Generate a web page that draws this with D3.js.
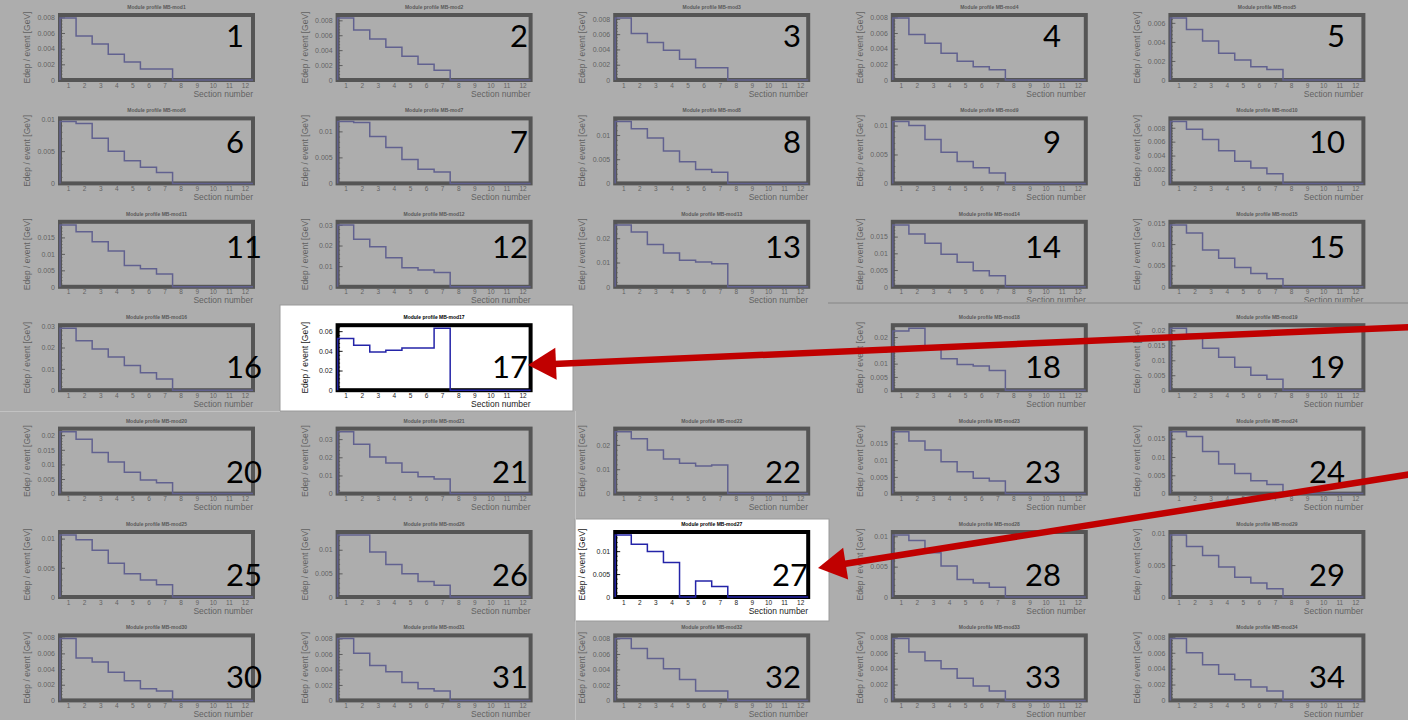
<!DOCTYPE html>
<html>
<head>
<meta charset="utf-8">
<script src="https://cdn.jsdelivr.net/npm/d3@7"></script>
<style>
  html, body { margin: 0; padding: 0; background: #ffffff; }
  svg { display: block; }
</style>
</head>
<body>
<svg id="chart" width="1408" height="720"></svg>
<script>
// Section numbers along the x axis of every module profile
const sections = [1, 2, 3, 4, 5, 6, 7, 8, 9, 10, 11, 12];

// Energy deposit per event [GeV] in sections 1..12, one array per module
const m01 = [0.0079, 0.0056, 0.0046, 0.0033, 0.0023, 0.0014, 0.0014, 0, 0, 0, 0, 0];
const m02 = [0.0083, 0.0067, 0.0055, 0.0044, 0.0032, 0.0021, 0.0013, 0, 0, 0, 0, 0];
const m03 = [0.0081, 0.0061, 0.0049, 0.0039, 0.0027, 0.0016, 0.0016, 0, 0, 0, 0, 0];
const m04 = [0.0079, 0.0058, 0.0047, 0.0034, 0.0024, 0.0017, 0.0013, 0, 0, 0, 0, 0];
const m05 = [0.0065, 0.0053, 0.0041, 0.0028, 0.0021, 0.0014, 0.0011, 0, 0, 0, 0, 0];
const m06 = [0.0096, 0.0093, 0.0070, 0.0050, 0.0035, 0.0025, 0.0017, 0, 0, 0, 0, 0];
const m07 = [0.0119, 0.0117, 0.0090, 0.0069, 0.0046, 0.0027, 0.0022, 0, 0, 0, 0, 0];
const m08 = [0.0128, 0.0113, 0.0094, 0.0067, 0.0045, 0.0029, 0.0023, 0, 0, 0, 0, 0];
const m09 = [0.0107, 0.0100, 0.0076, 0.0054, 0.0038, 0.0027, 0.0018, 0, 0, 0, 0, 0];
const m10 = [0.0089, 0.0078, 0.0063, 0.0047, 0.0032, 0.0022, 0.0014, 0, 0, 0, 0, 0];
const m11 = [0.0188, 0.0167, 0.0137, 0.0109, 0.0065, 0.0055, 0.0039, 0, 0, 0, 0, 0];
const m12 = [0.0300, 0.0230, 0.0194, 0.0141, 0.0092, 0.0082, 0.0069, 0, 0, 0, 0, 0];
const m13 = [0.0255, 0.0226, 0.0174, 0.0139, 0.0109, 0.0102, 0.0095, 0, 0, 0, 0, 0];
const m14 = [0.0185, 0.0158, 0.0130, 0.0097, 0.0073, 0.0048, 0.0033, 0, 0, 0, 0, 0];
const m15 = [0.0145, 0.0126, 0.0086, 0.0067, 0.0045, 0.0031, 0.0019, 0, 0, 0, 0, 0];
const m16 = [0.0290, 0.0232, 0.0193, 0.0155, 0.0116, 0.0082, 0.0053, 0, 0, 0, 0, 0];
const m17 = [0.0526, 0.0457, 0.0388, 0.0405, 0.0429, 0.0429, 0.0629, 0, 0, 0, 0, 0];
const m18 = [0.0223, 0.0233, 0.0155, 0.0118, 0.0097, 0.0091, 0.0074, 0, 0, 0, 0, 0];
const m19 = [0.0207, 0.0187, 0.0140, 0.0110, 0.0077, 0.0050, 0.0037, 0, 0, 0, 0, 0];
const m20 = [0.0212, 0.0186, 0.0141, 0.0108, 0.0073, 0.0047, 0.0037, 0, 0, 0, 0, 0];
const m21 = [0.0341, 0.0272, 0.0201, 0.0168, 0.0117, 0.0093, 0.0080, 0, 0, 0, 0, 0];
const m22 = [0.0254, 0.0225, 0.0179, 0.0142, 0.0125, 0.0113, 0.0117, 0, 0, 0, 0, 0];
const m23 = [0.0185, 0.0157, 0.0130, 0.0095, 0.0065, 0.0046, 0.0038, 0, 0, 0, 0, 0];
const m24 = [0.0169, 0.0156, 0.0115, 0.0081, 0.0055, 0.0035, 0.0025, 0, 0, 0, 0, 0];
const m25 = [0.0106, 0.0098, 0.0080, 0.0058, 0.0040, 0.0029, 0.0021, 0, 0, 0, 0, 0];
const m26 = [0.0131, 0.0131, 0.0095, 0.0069, 0.0049, 0.0033, 0.0025, 0, 0, 0, 0, 0];
const m27 = [0.0135, 0.0115, 0.0099, 0.0075, 0, 0.0035, 0.0023, 0, 0, 0, 0, 0];
const m28 = [0.0102, 0.0093, 0.0073, 0.0051, 0.0029, 0.0023, 0.0016, 0, 0, 0, 0, 0];
const m29 = [0.0097, 0.0079, 0.0065, 0.0047, 0.0031, 0.0022, 0.0013, 0, 0, 0, 0, 0];
const m30 = [0.0079, 0.0054, 0.0049, 0.0036, 0.0025, 0.0015, 0.0012, 0, 0, 0, 0, 0];
const m31 = [0.0080, 0.0061, 0.0045, 0.0037, 0.0023, 0.0015, 0.0012, 0, 0, 0, 0, 0];
const m32 = [0.0080, 0.0067, 0.0054, 0.0041, 0.0027, 0.0012, 0.0012, 0, 0, 0, 0, 0];
const m33 = [0.0078, 0.0061, 0.0050, 0.0040, 0.0028, 0.0018, 0.0012, 0, 0, 0, 0, 0];
const m34 = [0.0078, 0.0060, 0.0045, 0.0033, 0.0026, 0.0017, 0.0012, 0, 0, 0, 0, 0];

const profiles = [m01, m02, m03, m04, m05, m06, m07, m08, m09, m10,
                  m11, m12, m13, m14, m15, m16, m17, m18, m19, m20,
                  m21, m22, m23, m24, m25, m26, m27, m28, m29, m30,
                  m31, m32, m33, m34];

// Labelled y-tick spacing of each module's profile
const yTickStep = [0.002, 0.002, 0.002, 0.002, 0.002, 0.005, 0.005, 0.005, 0.005, 0.002,
                   0.005, 0.01, 0.01, 0.005, 0.005, 0.01, 0.02, 0.005, 0.005, 0.005,
                   0.01, 0.01, 0.005, 0.005, 0.005, 0.005, 0.005, 0.005, 0.005, 0.002,
                   0.002, 0.002, 0.002, 0.002];

// Modules singled out
const highlighted = [17, 27];

// ---- layout -------------------------------------------------------------
const W = 1408, H = 720;
const colX0 = 60, colStep = 277.6;
const rowY0 = 15, rowStep = 103.4;
const frameW = 193, frameH = 65;
const numRight = [null, 528, 801, 1061, 1345];
const numBaseline = [32, 35, 36, 53, 54.5, 54, 53];

const svg = d3.select("#chart");
svg.append("rect").attr("width", W).attr("height", H).attr("fill", "#ffffff");

const fmt = d3.format(".3~g");
const AXIS_FONT = "'Liberation Sans', Arial, sans-serif";

function slotOf(m) { return m <= 17 ? m - 1 : m; }   // one grid slot left empty after module 17

const panels = profiles.map((vals, i) => {
  const m = i + 1;
  const slot = slotOf(m);
  const row = Math.floor(slot / 5), col = slot % 5;
  return { m, vals, row, col,
           left: colX0 + col * colStep,
           top: rowY0 + row * rowStep,
           step: yTickStep[i] };
});

const panelLayer = svg.append("g");

panels.forEach(p => {
  const g = panelLayer.append("g");
  const x = d3.scaleLinear().domain([0.5, 12.5]).range([p.left, p.left + frameW]);
  const ymax = d3.max(p.vals) * 1.05;
  const y = d3.scaleLinear().domain([0, ymax]).range([p.top + frameH, p.top]);

  // title
  g.append("text")
    .attr("x", p.left + frameW / 2).attr("y", p.top - 6)
    .attr("text-anchor", "middle")
    .attr("font-family", AXIS_FONT).attr("font-size", 5).attr("font-weight", "bold")
    .attr("fill", "#000")
    .text("Module profile MB-mod" + p.m);

  // y axis ticks (major labelled + minor) drawn inside the frame
  const nMajor = Math.floor(ymax / p.step + 1e-9);
  const major = d3.range(0, nMajor + 1).map(k => +(k * p.step).toFixed(5));
  const minorStep = p.step / 5;
  const minor = d3.range(0, Math.floor(ymax / minorStep + 1e-9) + 1).map(k => k * minorStep);

  const yAxisMinor = d3.axisRight(y).tickValues(minor).tickSize(2.5).tickFormat("");
  g.append("g").attr("transform", `translate(${p.left},0)`).call(yAxisMinor)
    .call(a => a.select(".domain").remove())
    .call(a => a.selectAll("line").attr("stroke", "#000").attr("stroke-width", 0.8));

  const yAxisMajor = d3.axisRight(y).tickValues(major).tickSize(5).tickFormat("");
  g.append("g").attr("transform", `translate(${p.left},0)`).call(yAxisMajor)
    .call(a => a.select(".domain").remove())
    .call(a => a.selectAll("line").attr("stroke", "#000").attr("stroke-width", 0.9));

  const yAxisLabels = d3.axisLeft(y).tickValues(major).tickSize(0).tickPadding(5).tickFormat(fmt);
  g.append("g").attr("transform", `translate(${p.left},0)`).call(yAxisLabels)
    .call(a => a.select(".domain").remove())
    .call(a => a.selectAll("text")
      .attr("font-family", AXIS_FONT).attr("font-size", 7).attr("fill", "#222"));

  // x axis labels at section centres
  const xAxis = d3.axisBottom(x).tickValues(sections).tickSize(0).tickPadding(3).tickFormat(d3.format("d"));
  g.append("g").attr("transform", `translate(0,${p.top + frameH})`).call(xAxis)
    .call(a => a.select(".domain").remove())
    .call(a => a.selectAll("text")
      .attr("font-family", AXIS_FONT).attr("font-size", 6.5).attr("fill", "#222"));

  // axis titles
  g.append("text")
    .attr("x", p.left + frameW).attr("y", p.top + frameH + 16.5)
    .attr("text-anchor", "end")
    .attr("font-family", AXIS_FONT).attr("font-size", 8.5).attr("fill", "#222")
    .text("Section number");
  g.append("text")
    .attr("transform", `translate(${p.left - 30},${p.top + frameH / 2}) rotate(-90)`)
    .attr("text-anchor", "middle")
    .attr("font-family", AXIS_FONT).attr("font-size", 8.5).attr("fill", "#222")
    .text("Edep / event [GeV]");

  // frame
  g.append("rect")
    .attr("x", p.left).attr("y", p.top)
    .attr("width", frameW).attr("height", frameH)
    .attr("fill", "none").attr("stroke", "#000").attr("stroke-width", 4);

  // histogram outline
  const pts = [[0.5, 0]].concat(p.vals.map((v, k) => [sections[k] - 0.5, v]));
  pts.push([12.5, p.vals[p.vals.length - 1]]);
  pts.push([12.5, 0]);
  const line = d3.line().x(d => x(d[0])).y(d => y(d[1])).curve(d3.curveStepAfter);
  g.append("path")
    .attr("d", line(pts))
    .attr("fill", "none").attr("stroke", "#2424a8").attr("stroke-width", 1.5);
});

// ---- grey wash with windows around the singled-out modules --------------
const boxes = [
  { m: 17, x0: 280, y0: 305, x1: 573, y1: 411 },
  { m: 27, x0: 575, y0: 519, x1: 829, y1: 621 }
];
let washPath = `M0,0H${W}V${H}H0Z`;
boxes.forEach(b => { washPath += `M${b.x0},${b.y0}H${b.x1}V${b.y1}H${b.x0}Z`; });
svg.append("path").attr("d", washPath).attr("fill-rule", "evenodd")
  .attr("fill", "rgb(130,130,130)").attr("fill-opacity", 0.655);

boxes.forEach(b => {
  svg.append("rect").attr("x", b.x0).attr("y", b.y0)
    .attr("width", b.x1 - b.x0).attr("height", b.y1 - b.y0)
    .attr("fill", "none").attr("stroke", "#9a9a9a").attr("stroke-width", 1);
});

// tile seams
svg.append("line").attr("x1", 828).attr("x2", W).attr("y1", 303).attr("y2", 303)
  .attr("stroke", "#999").attr("stroke-width", 2);
svg.append("line").attr("x1", 0).attr("x2", 280).attr("y1", 411.5).attr("y2", 411.5)
  .attr("stroke", "#c2c2c2").attr("stroke-width", 1);
svg.append("line").attr("x1", 575.5).attr("x2", 575.5).attr("y1", 411).attr("y2", H)
  .attr("stroke", "#c2c2c2").attr("stroke-width", 1);

// ---- module numbers -----------------------------------------------------
panels.forEach(p => {
  const t = svg.append("text")
    .attr("font-family", "Lato, 'Open Sans', sans-serif").attr("font-size", 31)
    .attr("fill", "#000")
    .attr("y", p.top + numBaseline[p.row])
    .text(p.m);
  if (p.col === 0) t.attr("x", 226).attr("text-anchor", "start");
  else t.attr("x", numRight[p.col] + (p.m === 27 ? 7 : 0)).attr("text-anchor", "end");
});

// ---- arrows ---------------------------------------------------------------
const arrows = [
  { from: [1412, 327], to: [528, 365] },
  { from: [1412, 474], to: [818, 568] }
];
const RED = "#c00000";
arrows.forEach(a => {
  const dx = a.to[0] - a.from[0], dy = a.to[1] - a.from[1];
  const len = Math.hypot(dx, dy);
  const ux = dx / len, uy = dy / len;
  const headL = 28, headW = 16;
  const bx = a.to[0] - ux * headL, by = a.to[1] - uy * headL;
  svg.append("line")
    .attr("x1", a.from[0]).attr("y1", a.from[1])
    .attr("x2", bx + ux * 2).attr("y2", by + uy * 2)
    .attr("stroke", RED).attr("stroke-width", 6.5);
  svg.append("path")
    .attr("d", `M${a.to[0]},${a.to[1]}L${bx - uy * headW},${by + ux * headW}L${bx + uy * headW},${by - ux * headW}Z`)
    .attr("fill", RED);
});
</script>
</body>
</html>
